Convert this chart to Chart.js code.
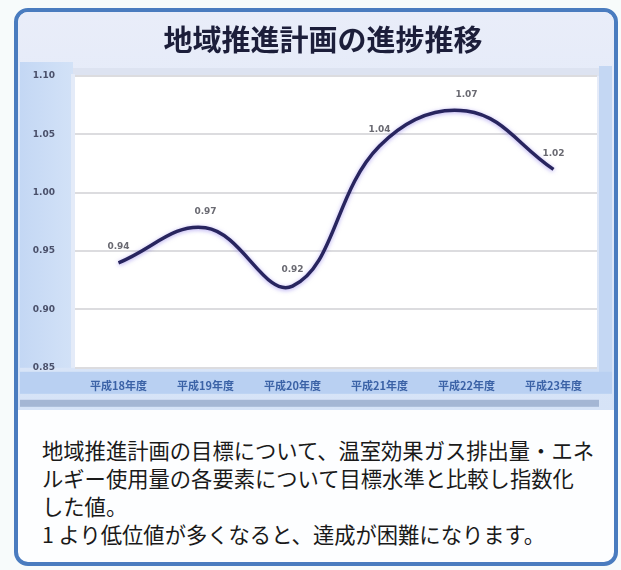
<!DOCTYPE html>
<html lang="ja">
<head>
<meta charset="utf-8">
<title>地域推進計画の進捗推移</title>
<script src="https://cdn.jsdelivr.net/npm/chart.js@4.4.1/dist/chart.umd.min.js"></script>
<style>
    html, body {
        margin: 0;
        padding: 0;
        width: 621px;
        height: 570px;
        background: #f7fbfb;
        overflow: hidden;
    }
    #panel {
        position: absolute;
        left: 14px;
        top: 8px;
        width: 596px;
        height: 550px;
        border: 4px solid #4a7cbf;
        border-radius: 14px;
        background: #fdfeff;
        overflow: hidden;
    }
    #chart-box {
        position: absolute;
        left: 0;
        top: 0;
        width: 596px;
        height: 398px;
    }
    #note {
        position: absolute;
        left: 24px;
        top: 424px;
        font-family: "Noto Sans CJK JP", sans-serif;
        font-size: 21.3px;
        line-height: 28px;
        color: #1a1a1a;
        white-space: nowrap;
    }
</style>
</head>
<body>
<div id="panel">
    <div id="chart-box"><canvas id="chart" width="596" height="398"></canvas></div>
    <div id="note">
        地域推進計画の目標について、温室効果ガス排出量・エネ<br>
        ルギー使用量の各要素について目標水準と比較し指数化<br>
        した値。<br>
        1 より低位値が多くなると、達成が困難になります。
    </div>
</div>

<script>
const chartTitle = '地域推進計画の進捗推移'
const years = ['平成18年度', '平成19年度', '平成20年度', '平成21年度', '平成22年度', '平成23年度']
const progressIndex = [0.94, 0.97, 0.92, 1.04, 1.07, 1.02]

const axisMin = 0.85
const axisMax = 1.10
const axisStep = 0.05


// paints the blue frame, the label bands and the white plot wall
const chartBackground = {
    id: 'chartBackground',
    beforeDraw(chart) {
        const ctx = chart.ctx
        const area = chart.chartArea
        const w = chart.width
        const h = chart.height

        ctx.save()
        let g = ctx.createLinearGradient(0, 0, 0, h)
        g.addColorStop(0, '#e9edf9')
        g.addColorStop(1, '#d6e3f7')
        ctx.fillStyle = g
        ctx.fillRect(0, 0, w, h)

        // band under the title
        ctx.fillStyle = '#dde3f1'
        ctx.fillRect(area.left - 4, area.top - 8, area.right - area.left + 6, 8)

        // y label panel
        g = ctx.createLinearGradient(0, 0, area.left, 0)
        g.addColorStop(0, '#c3d7f4')
        g.addColorStop(1, '#d3e2f7')
        ctx.fillStyle = g
        ctx.fillRect(2, area.top - 14, area.left - 4, area.bottom - area.top + 14)
        ctx.fillStyle = '#e4ebf8'
        ctx.fillRect(area.left - 4, area.top - 2, 4, area.bottom - area.top + 2)

        // right wall
        ctx.fillStyle = '#c4d7f3'
        ctx.fillRect(area.right + 2, area.top - 10, w - area.right - 4, area.bottom - area.top + 32)

        ctx.fillStyle = '#ffffff'
        ctx.fillRect(area.left, area.top, area.right - area.left, area.bottom - area.top)

        // category band and floor strip
        ctx.fillStyle = '#b9d0f2'
        ctx.fillRect(2, area.bottom + 4, w - 4, 22)
        ctx.fillStyle = '#a4b6d4'
        ctx.fillRect(2, area.bottom + 32, area.right, 7)
        ctx.restore()
    }
}


// heading, set slightly right of the canvas centre; space is kept by layout.padding.top
const headingPlugin = {
    id: 'heading',
    afterDraw(chart) {
        const ctx = chart.ctx
        ctx.save()
        ctx.font = 'bold 29px "Noto Sans CJK JP", sans-serif'
        ctx.fillStyle = '#1c1e3a'
        ctx.textAlign = 'center'
        ctx.textBaseline = 'middle'
        ctx.fillText(chartTitle, chart.width / 2 + 7, 28)
        ctx.restore()
    }
}


// soft purple halo behind the line
const lineGlow = {
    id: 'lineGlow',
    beforeDatasetDraw(chart) {
        const ctx = chart.ctx
        ctx.save()
        ctx.shadowColor = 'rgba(120, 100, 230, 0.55)'
        ctx.shadowBlur = 4
        ctx.shadowOffsetY = 1
    },
    afterDatasetDraw(chart) {
        chart.ctx.restore()
    }
}


// value text above every point
const valueLabels = {
    id: 'valueLabels',
    afterDatasetsDraw(chart) {
        const ctx = chart.ctx
        const meta = chart.getDatasetMeta(0)
        const values = chart.data.datasets[0].data

        ctx.save()
        ctx.font = 'bold 9px "DejaVu Sans", sans-serif'
        ctx.fillStyle = '#6a6a72'
        ctx.textAlign = 'center'
        ctx.textBaseline = 'middle'
        meta.data.forEach((pt, i) => {
            ctx.fillText(values[i].toFixed(2), pt.x, pt.y - 16)
        })
        ctx.restore()
    }
}


function renderChart() {
    const ctx = document.getElementById('chart')

    new Chart(ctx, {
        type: 'line',
        data: {
            labels: years,
            datasets: [{
                data: progressIndex,
                borderColor: '#28255f',
                borderWidth: 3.5,
                tension: 0.4,
                pointRadius: 0,
                fill: false
            }]
        },
        options: {
            responsive: false,
            animation: false,
            events: [],
            layout: {
                padding: { left: 0, right: 17, top: 64, bottom: 7 }
            },
            plugins: {
                legend: { display: false },
                tooltip: { enabled: false },
                title: { display: false }
            },
            scales: {
                x: {
                    offset: true,
                    grid: { display: false, drawTicks: false },
                    border: { display: false },
                    ticks: {
                        color: '#3b62a6',
                        font: { family: '"Noto Sans CJK JP", sans-serif', size: 11, weight: 'bold' },
                        padding: 11,
                        maxRotation: 0
                    }
                },
                y: {
                    min: axisMin,
                    max: axisMax,
                    afterFit: (scale) => { scale.width = 57 },
                    grid: {
                        color: '#dcdcdf',
                        lineWidth: 2,
                        drawTicks: false
                    },
                    border: { display: false },
                    ticks: {
                        stepSize: axisStep,
                        color: '#4a506a',
                        padding: 20,
                        font: { family: '"DejaVu Sans", sans-serif', size: 9, weight: 'bold' },
                        callback: (v) => v.toFixed(2)
                    }
                }
            }
        },
        plugins: [chartBackground, headingPlugin, lineGlow, valueLabels]
    })
}

renderChart()
</script>
</body>
</html>
